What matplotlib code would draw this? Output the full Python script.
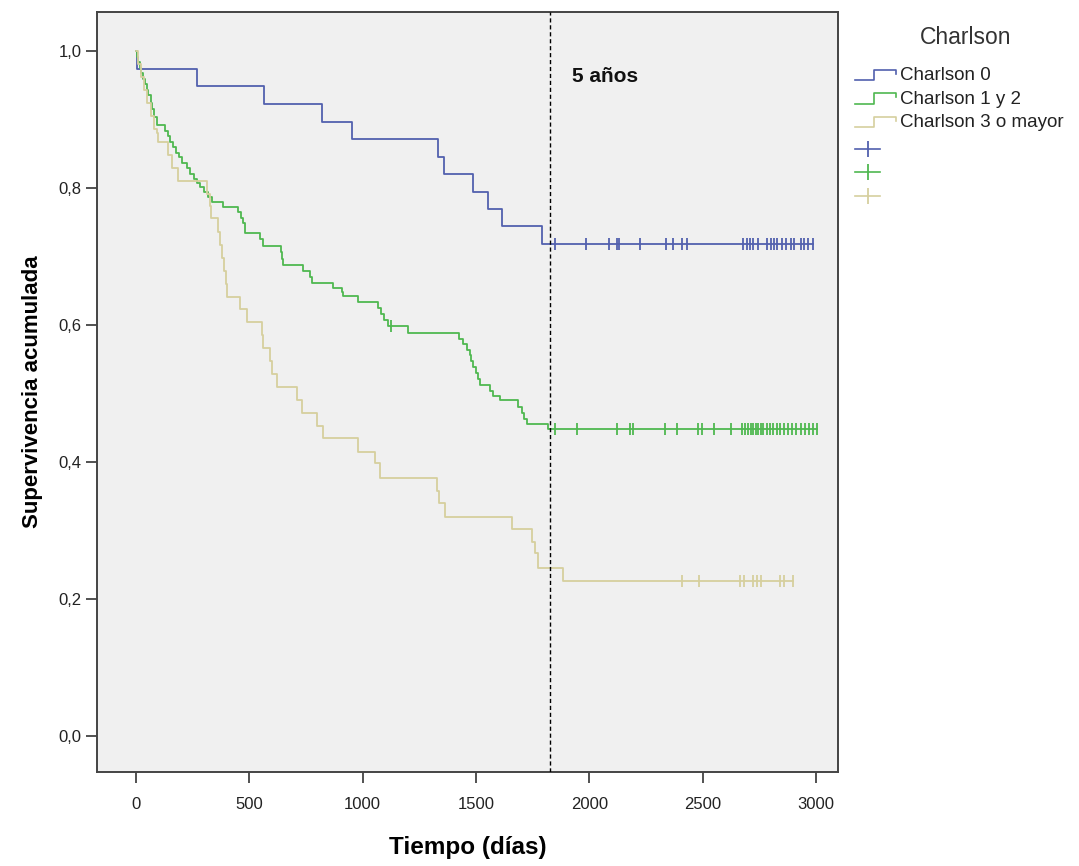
import numpy as np
import matplotlib
matplotlib.use("Agg")
from matplotlib import pyplot as plt
from matplotlib.lines import Line2D
from matplotlib.legend_handler import HandlerBase

plt.rcParams['font.family'] = ['Liberation Sans', 'DejaVu Sans']

# Kaplan-Meier step points (time in days, cumulative survival after the drop)
blue_t = [0, 5, 268, 566, 819, 951, 1334, 1359, 1485, 1551, 1613, 1790]
blue_s = [1.0, 0.974, 0.949, 0.923, 0.897, 0.872, 0.846, 0.821, 0.795, 0.769, 0.744, 0.718]
blue_cens = [1848, 1985, 2088, 2123, 2132, 2223, 2338, 2370, 2407, 2432, 2679, 2694,
             2708, 2720, 2745, 2785, 2800, 2814, 2829, 2851, 2867, 2888, 2903, 2932,
             2947, 2966, 2988]

green_t = [0, 4, 10, 17, 24, 31, 39, 47, 55, 64, 72, 81, 91, 128, 140, 152, 165, 178,
           190, 205, 224, 240, 258, 270, 282, 300, 318, 334, 385, 451, 465, 473, 481,
           547, 562, 638, 643, 648, 738, 768, 775, 870, 907, 915, 981, 1069, 1080, 1095,
           1110, 1201, 1426, 1444, 1460, 1473, 1480, 1488, 1500, 1510, 1517, 1561, 1575,
           1605, 1686, 1701, 1712, 1723, 1819]
green_s = [1.0, 0.992, 0.984, 0.976, 0.968, 0.960, 0.952, 0.944, 0.936, 0.924, 0.916,
           0.904, 0.892, 0.884, 0.876, 0.868, 0.860, 0.852, 0.845, 0.837, 0.829, 0.821,
           0.814, 0.808, 0.802, 0.795, 0.787, 0.780, 0.772, 0.765, 0.757, 0.749, 0.735,
           0.725, 0.716, 0.707, 0.697, 0.688, 0.679, 0.670, 0.661, 0.654, 0.648, 0.642,
           0.634, 0.625, 0.616, 0.607, 0.598, 0.588, 0.580, 0.572, 0.564, 0.556, 0.547,
           0.539, 0.530, 0.521, 0.512, 0.504, 0.497, 0.490, 0.480, 0.471, 0.463, 0.456,
           0.449]
green_cens = [1125, 1848, 1944, 2123, 2179, 2194, 2333, 2385, 2480, 2495, 2550, 2623,
              2672, 2686, 2700, 2712, 2722, 2733, 2744, 2756, 2768, 2782, 2797, 2812,
              2826, 2841, 2860, 2877, 2894, 2913, 2932, 2951, 2970, 2988, 3002]

tan_t = [0, 8, 20, 35, 50, 65, 80, 91, 95, 143, 160, 187, 312, 326, 330, 363, 372, 380,
         390, 395, 400, 459, 488, 554, 560, 591, 600, 620, 709, 731, 797, 826, 981, 1054,
         1076, 1326, 1335, 1363, 1657, 1745, 1760, 1775, 1885]
tan_s = [1.0, 0.981, 0.962, 0.943, 0.925, 0.906, 0.887, 0.880, 0.868, 0.849, 0.830,
         0.811, 0.792, 0.774, 0.756, 0.736, 0.717, 0.698, 0.679, 0.660, 0.641, 0.624,
         0.605, 0.585, 0.566, 0.547, 0.528, 0.510, 0.490, 0.471, 0.452, 0.435, 0.415,
         0.398, 0.377, 0.358, 0.340, 0.320, 0.303, 0.284, 0.267, 0.246, 0.226]
tan_cens = [2407, 2485, 2664, 2682, 2723, 2741, 2755, 2841, 2858, 2900]

labels = ['Charlson 0', 'Charlson 1 y 2', 'Charlson 3 o mayor']
colors = ['#5260ae', '#4fb850', '#d6cf9e']
x_ticks = [0, 500, 1000, 1500, 2000, 2500, 3000]
y_ticks = [0.0, 0.2, 0.4, 0.6, 0.8, 1.0]
cutoff = 1825  # 5 years


def surv_at(times, surv, t):
    idx = np.searchsorted(times, t, side='right') - 1
    return np.asarray(surv)[idx]


class StepHandler(HandlerBase):
    def create_artists(self, legend, orig_handle, xdescent, ydescent, width, height,
                       fontsize, trans):
        xs = np.array([0.0, 0.42, 0.42, 0.92, 0.92]) * width - xdescent
        ys = np.array([0.0, 0.0, 0.8, 0.8, 0.5]) * height - ydescent
        ln = Line2D(xs, ys, color=orig_handle.get_color(), lw=1.2, transform=trans)
        return [ln]


fig = plt.figure(figsize=(10.79, 8.66), dpi=100)
ax = fig.add_axes([0.0899, 0.1085, 0.6868, 0.8775])
ax.set_facecolor('#f0f0f0')

series = [(blue_t, blue_s, blue_cens), (green_t, green_s, green_cens),
          (tan_t, tan_s, tan_cens)]
for (t, s, cens), col in zip(series, colors):
    end = max(cens)
    xs = list(t) + [end]
    ys = list(s) + [s[-1]]
    ax.step(xs, ys, where='post', color=col, lw=1.3, zorder=3)
    ax.plot(cens, surv_at(t, s, cens), linestyle='none', marker='|', color=col,
            markersize=8, markeredgewidth=1.3, zorder=4)

ax.axvline(cutoff, color='black', lw=1.0, ls=(0, (3, 2)), zorder=5)
ax.text(1923, 0.9635, '5 años', fontsize=15, fontweight='bold', va='center',
        ha='left', color='#111111')

ax.set_xlim(-172, 3097)
ax.set_ylim(-0.0526, 1.057)
ax.set_xticks(x_ticks)
ax.set_yticks(y_ticks)
ax.set_yticklabels([f'{v:.1f}'.replace('.', ',') for v in y_ticks])
ax.tick_params(direction='out', length=8, width=1.2, color='#333333',
               labelsize=12, labelcolor='#222222')
ax.tick_params(axis='x', pad=10)
ax.tick_params(axis='y', pad=3)
for sp in ax.spines.values():
    sp.set_color('#444444')
    sp.set_linewidth(1.4)

ax.set_xlabel('Tiempo (días)', fontsize=17.5, fontweight='bold', labelpad=17)
ax.set_ylabel('Supervivencia acumulada', fontsize=16, fontweight='bold', labelpad=11)

# legend: step icons for the curves, then a separate block of censor markers
fig.text(0.8945, 1 - 38 / 866, 'Charlson', fontsize=16.5, color='#333333',
         ha='center', va='center')
step_handles = [Line2D([0], [0], color=c) for c in colors]
handler_map = {h: StepHandler() for h in step_handles}
leg1 = fig.legend(step_handles, labels, handler_map=handler_map, loc='upper left',
                  bbox_to_anchor=(0.7924, 1 - 67 / 866), frameon=False, fontsize=13.5,
                  handlelength=2.4, handletextpad=0.0, labelspacing=0.34,
                  borderpad=0.0, borderaxespad=0.0)
for txt in leg1.get_texts():
    txt.set_color('#222222')

cens_handles = [Line2D([0], [0], color=c, marker='|', markersize=11,
                       markeredgewidth=1.3, lw=1.2) for c in colors]
leg2 = fig.legend(cens_handles, [' ', ' ', ' '], loc='upper left',
                  bbox_to_anchor=(0.7924, 1 - 142 / 866), frameon=False, fontsize=13.5,
                  handlelength=1.35, handletextpad=0.0, labelspacing=0.34,
                  borderpad=0.0, borderaxespad=0.0)

fig.savefig('out.png', dpi=100, facecolor='white')
